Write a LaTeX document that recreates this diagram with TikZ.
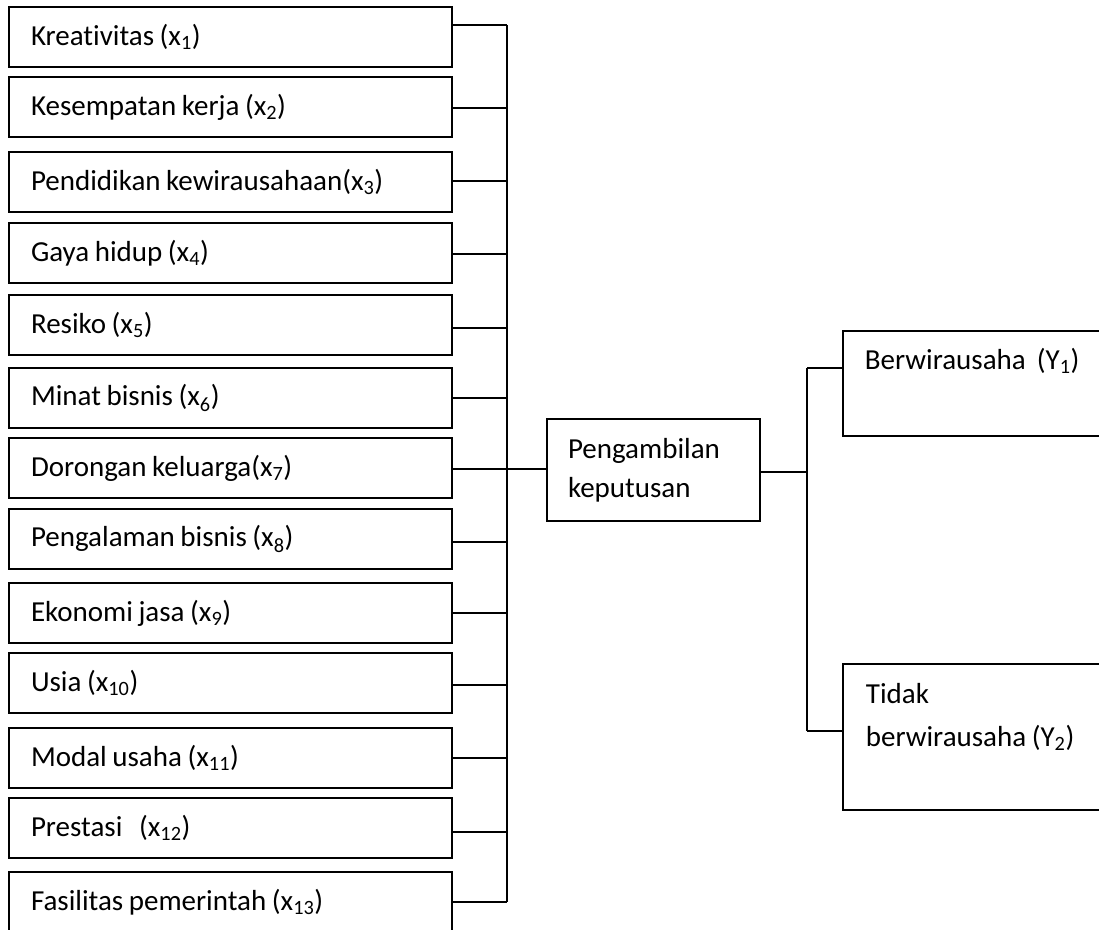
\documentclass[tikz,border=0pt]{standalone}
\usepackage{fontspec}
\setmainfont[Ligatures=NoCommon, WordSpace=0.85]{Carlito}
\newcommand\myfs{\fontsize{29}{39}\selectfont}
\tikzset{
  lbox/.style={draw, rectangle, anchor=north west, outer sep=0pt, minimum height=60pt,
    text width=399pt, inner xsep=22pt, inner ysep=0pt, align=flush left, font=\myfs},
  mbox/.style={draw, rectangle, anchor=north west, outer sep=0pt, minimum height=102pt,
    text width=171pt, inner xsep=21pt, inner ysep=0pt, align=flush left, font=\myfs},
  rbox/.style={draw, rectangle, anchor=north west, outer sep=0pt, minimum width=300pt},
  rtext/.style={anchor=base west, inner sep=0pt, align=left, font=\myfs},
  wire/.style={draw, line width=1.8pt}
}
\begin{document}
\begin{tikzpicture}[x=1pt,y=-1pt,line width=1.8pt]
\useasboundingbox (0,0) rectangle (1099,929);
\clip (0,0) rectangle (1099,929);
% left boxes
\node[lbox] (b1)  at (9,7)   {Kreativitas (x\textsubscript{1})};
\node[lbox] (b2)  at (9,77)  {Kesempatan kerja (x\textsubscript{2})};
\node[lbox] (b3)  at (9,152) {Pendidikan kewirausahaan(x\textsubscript{3})};
\node[lbox] (b4)  at (9,223) {Gaya hidup (x\textsubscript{4})};
\node[lbox] (b5)  at (9,295) {Resiko (x\textsubscript{5})};
\node[lbox] (b6)  at (9,368) {Minat bisnis (x\textsubscript{6})};
\node[lbox] (b7)  at (9,438) {Dorongan keluarga(x\textsubscript{7})};
\node[lbox] (b8)  at (9,509) {Pengalaman bisnis (x\textsubscript{8})};
\node[lbox] (b9)  at (9,583) {Ekonomi jasa (x\textsubscript{9})};
\node[lbox] (b10) at (9,653) {Usia (x\textsubscript{10})};
\node[lbox] (b11) at (9,728) {Modal usaha (x\textsubscript{11})};
\node[lbox] (b12) at (9,798) {Prestasi \ \ (x\textsubscript{12})};
\node[lbox] (b13) at (9,872) {Fasilitas pemerintah (x\textsubscript{13})};
% bus points
\coordinate (u1)  at (507,25);
\coordinate (u2)  at (507,108);
\coordinate (u3)  at (507,181);
\coordinate (u4)  at (507,254);
\coordinate (u5)  at (507,328);
\coordinate (u6)  at (507,398);
\coordinate (u7)  at (507,469);
\coordinate (u8)  at (507,542);
\coordinate (u9)  at (507,613);
\coordinate (u10) at (507,685);
\coordinate (u11) at (507,758);
\coordinate (u12) at (507,832);
\coordinate (u13) at (507,902);
\foreach \i in {1,...,13} {\draw[wire] (b\i.east |- u\i) -- (u\i);}
\draw[wire] (u1) -- (u13);
% middle box
\node[mbox] (pk) at (547,419) {Pengambilan\\keputusan};
\draw[wire] (u7) -- (u7 -| pk.west);
% right side
\node[rbox, minimum height=105pt] (y1) at (843,331) {};
\node[rbox, minimum height=146pt] (y2) at (843,664) {};
\node[rtext] (y1t) at (864,369) {Berwirausaha\ \ (Y\textsubscript{1})};
\node[rtext, font=\fontsize{29}{43}\selectfont] (y2t) at (865,746) {Tidak\\berwirausaha (Y\textsubscript{2})};
\coordinate (j)  at (807,472);
\coordinate (j1) at (807,368);
\coordinate (j2) at (807,731);
\draw[wire] (pk.east |- j) -- (j);
\draw[wire] (j1) -- (j2);
\draw[wire] (j1) -- (j1 -| y1.west);
\draw[wire] (j2) -- (j2 -| y2.west);
\end{tikzpicture}
\end{document}
